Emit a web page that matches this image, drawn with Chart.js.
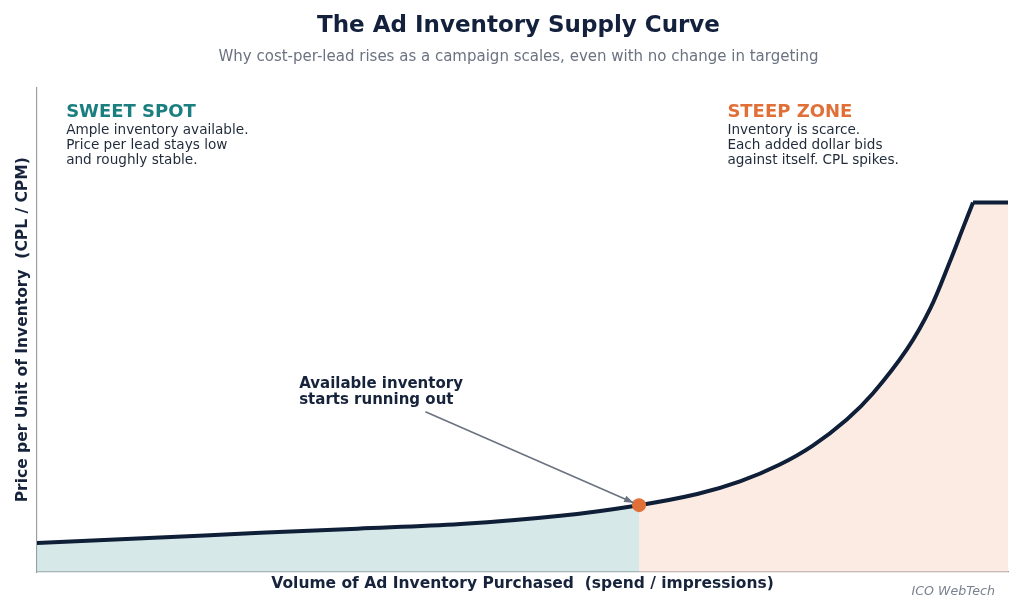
<!DOCTYPE html>
<html>
<head>
<meta charset="utf-8">
<script src="https://cdn.jsdelivr.net/npm/chart.js@4"></script>
<style>
  html, body { margin: 0; padding: 0; background: #fff; }
  #wrap { width: 1024px; height: 614px; }
</style>
</head>
<body>
<div id="wrap"><canvas id="supply-chart"></canvas></div>
<script>
// values (x: 0-100 volume, y: 0-100 price index)
const volume = [0, 11.5, 23, 33, 43.6, 53.9, 62, 68, 72.4, 76.5, 79.9, 83.4, 86.1, 89.6, 92, 94, 95.4, 96.4, 100];
const price = [6.0, 7.0, 8.1, 8.95, 9.9, 11.6, 13.8, 16.1, 18.7, 22.2, 26.1, 31.5, 36.9, 46.0, 54.4, 64.0, 71.2, 76.3, 76.3];
const kneeVolume = 62;
const capVolume = 96.4;

const sweetText = ['Ample inventory available.', 'Price per lead stays low', 'and roughly stable.'];
const steepText = ['Inventory is scarce.', 'Each added dollar bids', 'against itself. CPL spikes.'];
const noteText = ['Available inventory', 'starts running out'];

const NAVY = '#0f1f38';
const TEAL = '#1b7f80';
const ORANGE = '#e07038';
const FONT = "'DejaVu Sans', sans-serif";

const pts = volume.map((v, i) => ({ x: v, y: price[i] }));
const curvePts = pts.filter(p => p.x <= capVolume);
const capPts = pts.filter(p => p.x >= capVolume);
const sweetPts = pts.filter(p => p.x <= kneeVolume);
const steepPts = pts.filter(p => p.x >= kneeVolume && p.x <= capVolume);
const knee = pts.find(p => p.x === kneeVolume);

const labelsPlugin = {
  id: 'labels',
  afterDatasetsDraw(chart) {
    const { ctx, chartArea: area, scales: { x, y } } = chart;
    ctx.save();
    ctx.textBaseline = 'middle';
    ctx.textAlign = 'left';

    const zone = (vx, vy, head, color, lines) => {
      const px = x.getPixelForValue(vx);
      const py = y.getPixelForValue(vy);
      ctx.fillStyle = color;
      ctx.font = 'bold 18px ' + FONT;
      ctx.fillText(head, px, py);
      ctx.fillStyle = '#1f2a3a';
      ctx.font = '13.6px ' + FONT;
      lines.forEach((l, i) => ctx.fillText(l, px, py + 18 + i * 15));
    };
    zone(3.0, 94.8, 'SWEET SPOT', TEAL, sweetText);
    zone(71.1, 94.8, 'STEEP ZONE', ORANGE, steepText);

    // annotation text
    const tx = x.getPixelForValue(27.0);
    const ty = y.getPixelForValue(38.8);
    ctx.fillStyle = '#16233b';
    ctx.font = 'bold 15px ' + FONT;
    noteText.forEach((l, i) => ctx.fillText(l, tx, ty + i * 16));

    // arrow to the knee point
    const sx = x.getPixelForValue(40.0), sy = y.getPixelForValue(33.1);
    const kx = x.getPixelForValue(knee.x), ky = y.getPixelForValue(knee.y);
    const ang = Math.atan2(ky - sy, kx - sx);
    const ex = kx - Math.cos(ang) * 6, ey = ky - Math.sin(ang) * 6;
    ctx.strokeStyle = '#6b7280';
    ctx.fillStyle = '#6b7280';
    ctx.lineWidth = 1.6;
    ctx.beginPath();
    ctx.moveTo(sx, sy);
    ctx.lineTo(ex, ey);
    ctx.stroke();
    ctx.beginPath();
    ctx.moveTo(ex, ey);
    ctx.lineTo(ex - Math.cos(ang - 0.35) * 10, ey - Math.sin(ang - 0.35) * 10);
    ctx.lineTo(ex - Math.cos(ang + 0.35) * 10, ey - Math.sin(ang + 0.35) * 10);
    ctx.closePath();
    ctx.fill();

    // axis titles
    ctx.fillStyle = '#16233b';
    ctx.font = 'bold 15.5px ' + FONT;
    ctx.textAlign = 'center';
    ctx.fillText('Volume of Ad Inventory Purchased  (spend / impressions)', (area.left + area.right) / 2, area.bottom + 12);
    ctx.save();
    ctx.translate(area.left - 14, (area.top + area.bottom) / 2);
    ctx.rotate(-Math.PI / 2);
    ctx.fillText('Price per Unit of Inventory  (CPL / CPM)', 0, 0);
    ctx.restore();

    // watermark
    ctx.textAlign = 'right';
    ctx.fillStyle = '#7b8190';
    ctx.font = 'italic 12.6px ' + FONT;
    ctx.fillText('ICO WebTech', 995, 592);
    ctx.restore();
  }
};

new Chart(document.getElementById('supply-chart'), {
  type: 'line',
  data: {
    datasets: [
      {
        data: [knee],
        type: 'scatter',
        pointRadius: 7,
        pointBackgroundColor: ORANGE,
        pointBorderWidth: 0,
        order: 0
      },
      {
        data: curvePts,
        borderColor: NAVY,
        borderWidth: 4,
        pointRadius: 0,
        tension: 0.35,
        fill: false,
        order: 1
      },
      {
        data: capPts,
        borderColor: NAVY,
        borderWidth: 4,
        pointRadius: 0,
        tension: 0,
        fill: 'origin',
        backgroundColor: 'rgba(250, 215, 200, 0.5)',
        order: 1
      },
      {
        data: sweetPts,
        borderWidth: 0,
        pointRadius: 0,
        tension: 0.35,
        fill: 'origin',
        backgroundColor: 'rgba(176, 210, 212, 0.5)',
        order: 2
      },
      {
        data: steepPts,
        borderWidth: 0,
        pointRadius: 0,
        tension: 0.35,
        fill: 'origin',
        backgroundColor: 'rgba(250, 215, 200, 0.5)',
        order: 2
      }
    ]
  },
  options: {
    responsive: true,
    maintainAspectRatio: false,
    animation: false,
    layout: { padding: { left: 29, right: 16, top: 0, bottom: 34 } },
    plugins: {
      legend: { display: false },
      tooltip: { enabled: false },
      title: {
        display: true,
        text: 'The Ad Inventory Supply Curve',
        color: '#14213d',
        font: { family: FONT, size: 23, weight: 'bold' },
        padding: { top: 12, bottom: 0 }
      },
      subtitle: {
        display: true,
        text: 'Why cost-per-lead rises as a campaign scales, even with no change in targeting',
        color: '#6b7280',
        font: { family: FONT, size: 15 },
        padding: { top: 9, bottom: 21 }
      }
    },
    scales: {
      x: {
        type: 'linear',
        min: 0,
        max: 100,
        grid: { display: false },
        ticks: { display: false },
        border: { display: true, color: '#9aa0a6', width: 1.2 }
      },
      y: {
        min: 0,
        max: 100,
        grid: { display: false },
        ticks: { display: false },
        border: { display: true, color: '#9aa0a6', width: 1.2 }
      }
    }
  },
  plugins: [labelsPlugin]
});
</script>
</body>
</html>
